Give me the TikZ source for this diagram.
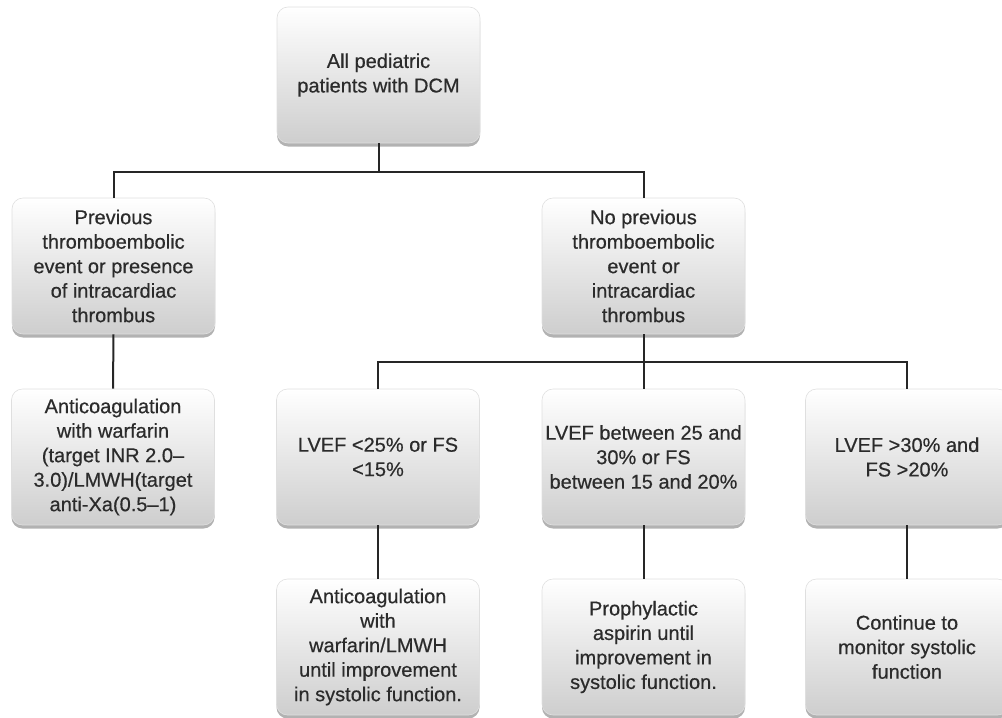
\documentclass[tikz,border=0pt]{standalone}
\usepackage{fontspec}
\setmainfont{Liberation Sans}[FakeBold=0.6]
\newfontfamily\boxfont{Liberation Sans}[FakeBold=0.5]
\usetikzlibrary{shadows}
\definecolor{txt}{HTML}{2B2B2B}
\definecolor{ln}{HTML}{262626}
\definecolor{boxbot}{HTML}{CECECE}
\definecolor{boxmid}{HTML}{F1F1F1}
\tikzset{
  box/.style={rounded corners=11pt, minimum width=203pt, minimum height=136pt,
    inner sep=0pt, align=center, text=txt, draw=gray!25, line width=0.6pt,
    top color=white, middle color=boxmid, bottom color=boxbot,
    drop shadow={shadow xshift=0pt, shadow yshift=-3.5pt, opacity=0.55, fill=black!55},
    font=\boxfont\fontsize{20}{24.5}\selectfont},
  conn/.style={draw=ln, line width=2pt}
}
\begin{document}
\begin{tikzpicture}[x=1pt,y=-1pt]
\useasboundingbox (0,0) rectangle (1002,718);
\node[box] (top) at (378.5,75) {All pediatric\\patients with DCM};
\node[box] (prev) at (113.5,266) {Previous\\thromboembolic\\event or presence\\of intracardiac\\thrombus};
\node[box] (noprev) at (643.5,266) {No previous\\thromboembolic\\event or\\intracardiac\\thrombus};
\node[box] (anti1) at (113,457) {Anticoagulation\\with warfarin\\(target INR 2.0–\\3.0)/LMWH(target\\anti-Xa(0.5–1)};
\node[box] (low) at (378,457) {LVEF <25\% or FS\\<15\%};
\node[box] (mid) at (643.5,457) {LVEF between 25 and\\30\% or FS\\between 15 and 20\%};
\node[box] (high) at (907,457) {LVEF >30\% and\\FS >20\%};
\node[box] (anti2) at (378,647) {Anticoagulation\\with\\warfarin/LMWH\\until improvement\\in systolic function.};
\node[box] (asp) at (643.5,647) {Prophylactic\\aspirin until\\improvement in\\systolic function.};
\node[box] (mon) at (907,647) {Continue to\\monitor systolic\\function};
\coordinate (j1) at (378.5,172);
\coordinate (j2) at (643.5,362);
\draw[conn] (top.south) -- (j1);
\draw[conn] (prev.north) |- (j1) -| (noprev.north);
\draw[conn] (prev.south) -- (anti1.north);
\draw[conn] (noprev.south) -- (j2);
\draw[conn] (low.north) |- (j2) -| (high.north);
\draw[conn] (j2) -- (mid.north);
\draw[conn] (low.south) -- (anti2.north);
\draw[conn] (mid.south) -- (asp.north);
\draw[conn] (high.south) -- (mon.north);
\end{tikzpicture}
\end{document}
